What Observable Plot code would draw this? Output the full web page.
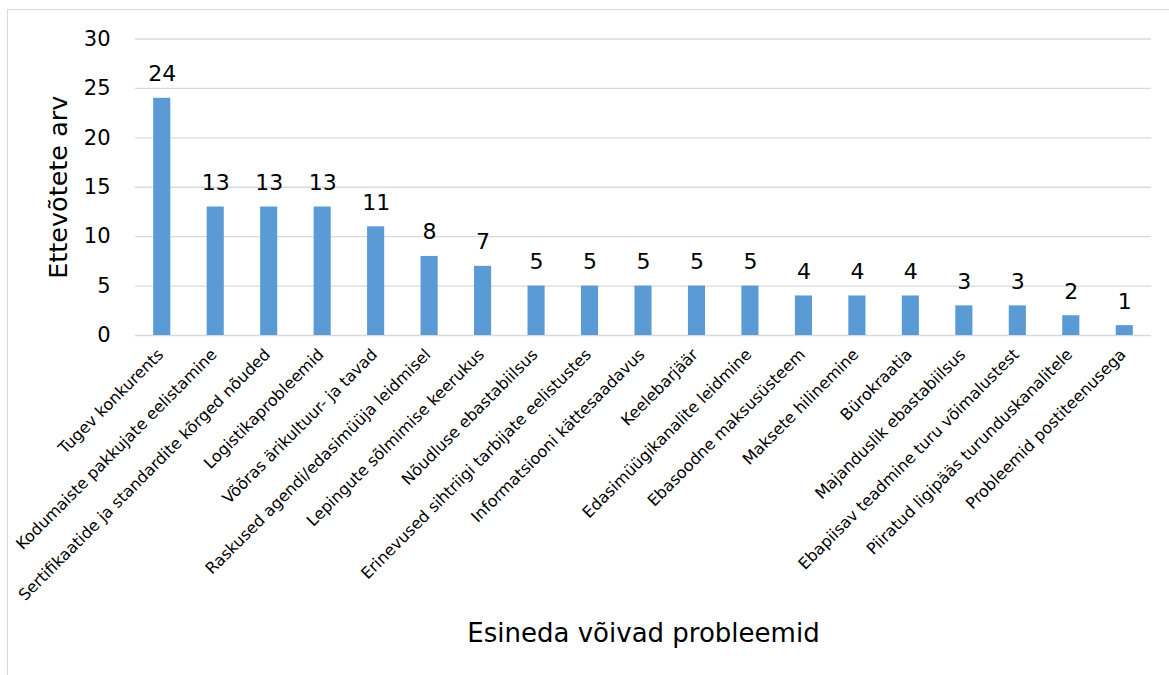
<!DOCTYPE html>
<html>
<head>
<meta charset="utf-8">
<script src="https://cdn.jsdelivr.net/npm/d3@7"></script>
<script src="https://cdn.jsdelivr.net/npm/@observablehq/plot@0.6"></script>
<style>
  html, body { margin: 0; padding: 0; background: #fff; overflow: hidden; }
  #wrap { position: relative; width: 1169px; height: 675px; }
  #border { position: absolute; left: 7px; top: 9px; width: 1200px; height: 700px;
            border-left: 1.5px solid #d9d9d9; border-top: 1.5px solid #d9d9d9; }
  #chart { position: absolute; left: 0; top: 0; }
</style>
</head>
<body>
<div id="wrap"><div id="border"></div><div id="chart"></div></div>
<script>
// Problems companies may face, with the number of companies naming each
const categories = [
  "Tugev konkurents",
  "Kodumaiste pakkujate eelistamine",
  "Sertifikaatide ja standardite kõrged nõuded",
  "Logistikaprobleemid",
  "Võõras ärikultuur- ja tavad",
  "Raskused agendi/edasimüüja leidmisel",
  "Lepingute sõlmimise keerukus",
  "Nõudluse ebastabiilsus",
  "Erinevused sihtriigi tarbijate eelistustes",
  "Informatsiooni kättesaadavus",
  "Keelebarjäär",
  "Edasimüügikanalite leidmine",
  "Ebasoodne maksusüsteem",
  "Maksete hilinemine",
  "Bürokraatia",
  "Majanduslik ebastabiilsus",
  "Ebapiisav teadmine turu võimalustest",
  "Piiratud ligipääs turunduskanalitele",
  "Probleemid postiteenusega"
];
const counts = [24, 13, 13, 13, 11, 8, 7, 5, 5, 5, 5, 5, 4, 4, 4, 3, 3, 2, 1];
const yTicks = [0, 5, 10, 15, 20, 25, 30];

const yTitle = "Ettevõtete arv";
const xTitle = "Esineda võivad probleemid";

const data = categories.map((name, i) => ({name, value: counts[i]}));

const font = "'DejaVu Sans', Verdana, sans-serif";

const chart = Plot.plot({
  width: 1169,
  height: 675,
  marginTop: 38.5,
  marginBottom: 340,
  marginLeft: 135,
  marginRight: 18,
  style: {fontFamily: font, background: "transparent", color: "#000"},
  x: {domain: categories, paddingInner: 0.68, paddingOuter: 0.34, round: false, axis: null},
  y: {domain: [0, 30]},
  marks: [
    Plot.ruleY(yTicks, {stroke: "#d9d9d9", strokeWidth: 1.3}),
    Plot.barY(data, {x: "name", y: "value", fill: "#5b9bd5"}),
    Plot.text(data, {
      x: "name", y: "value", text: d => String(d.value),
      lineAnchor: "bottom", dy: -17, fontSize: 22, fill: "#000"
    }),
    Plot.axisY(yTicks, {
      tickSize: 0, tickPadding: 25, fontSize: 21, label: null, tickFormat: d => String(d)
    }),
    Plot.text(data, {
      x: "name", text: "name", frameAnchor: "bottom",
      rotate: -45, textAnchor: "end", lineAnchor: "top",
      dx: -6, dy: 12, fontSize: 16, fill: "#000"
    }),
    Plot.text([yTitle], {
      text: d => d, frameAnchor: "left", dx: -77, rotate: -90,
      textAnchor: "middle", lineAnchor: "middle", fontSize: 25.5, fill: "#000"
    }),
    Plot.text([xTitle], {
      text: d => d, frameAnchor: "bottom", dy: 298,
      textAnchor: "middle", lineAnchor: "middle", fontSize: 26, fill: "#000"
    })
  ]
});

document.getElementById("chart").appendChild(chart);
</script>
</body>
</html>
